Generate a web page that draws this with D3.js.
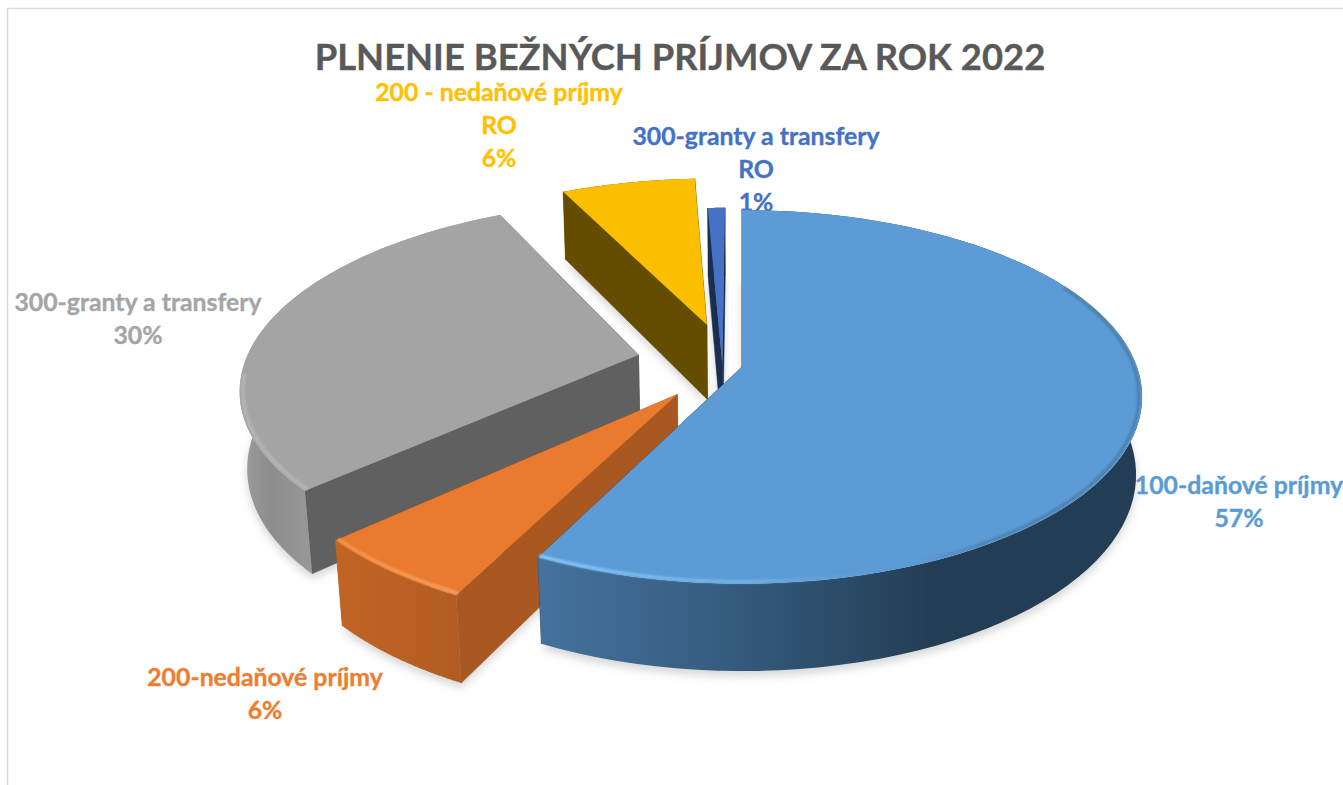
<!DOCTYPE html>
<html><head><meta charset="utf-8">
<script src="https://cdnjs.cloudflare.com/ajax/libs/d3/7.8.5/d3.min.js"></script>
<style>html,body{margin:0;padding:0;background:#fff;overflow:hidden}svg{display:block}text{font-family:Lato,"Open Sans",sans-serif;font-weight:700;text-anchor:middle;stroke-width:.35px;stroke-linejoin:round}</style>
</head><body><svg id="c" width="1343" height="785"></svg>
<script>
const title = "PLNENIE BEŽNÝCH PRÍJMOV ZA ROK 2022";
const categories = ["100-daňové príjmy","200-nedaňové príjmy","300-granty a transfery","200 - nedaňové príjmy","300-granty a transfery"];
const suffixes = ["","","","RO","RO"];
const values = [57.3,5.8,29.6,6.49,.81];

const topColors  = ["#5B9BD5","#E97A2E","#A4A4A4","#FBBF00","#4472C4"];
const cutColors  = ["#2b4a66","#A95821","#606060","#654D00","#192E50"];
const textColors = ["#5B9BD5","#ED7D31","#A5A5A5","#FFC000","#4472C4"];
const wallStops = [
  [[541,"#44729c"],[700,"#385f84"],[850,"#2a4a66"],[930,"#233e54"],[1143,"#233e54"]],
  [[345,"#C06425"],[465,"#B25C22"]],
  [[238,"#a0a0a0"],[270,"#8c8c8c"],[318,"#9a9a9a"]],
  [[0,"#654D00"],[1343,"#654D00"]],
  [[0,"#192E50"],[1343,"#192E50"]]
];
const rimStops = [
  [[541,"#8ccaff",1],[760,"#74b4ea",.9],[900,"#5B9BD5",0],[980,"#2d4f6b",.35],[1143,"#2d4f6b",.4]],
  [[345,"#F59A55",.9],[465,"#F9A566",1]],
  [[238,"#c4c4c4",.6],[318,"#bcbcbc",.75]]
];
const rimAngles = [[62,206.3],[206.3,227.2],[227.2,264]];
// exploded offset of each wedge on the disc, in radius units
const explodeU = [0,-.16,-.265,-.0924,-.05];
const explodeV = [0,-.147,.0672,.241,.017];
const labelX = [1239,265,138,499,756];
const labelY = [494,686,311,101,145];
const drawOrder = [2,3,4,1,0];

const cx=742, cy=367, R=395, A=182, p=.16, H=78, q=.015;
const project=(u,v,z)=>{const w=1+p*v+q*z;return [cx+R*u/w, cy+(-A*v+H*z)/w];};

const svg=d3.select("#c"), defs=svg.append("defs");
const line=d3.line();
const arcs=d3.pie().sort(null).startAngle(0).endAngle(2*Math.PI)(values);

const blur=(id,s)=>defs.append("filter").attr("id",id).attr("x","-20%").attr("y","-20%").attr("width","140%").attr("height","140%")
  .append("feGaussianBlur").attr("stdDeviation",s);
blur("sh",4.5); blur("rim",1.1); blur("soft",.45);

function grad(id,stops){
  const g=defs.append("linearGradient").attr("id",id).attr("gradientUnits","userSpaceOnUse")
    .attr("x1",stops[0][0]).attr("x2",stops[stops.length-1][0]).attr("y1",0).attr("y2",0);
  const a=stops[0][0], b=stops[stops.length-1][0];
  stops.forEach(s=>g.append("stop").attr("offset",(s[0]-a)/(b-a)).attr("stop-color",s[1]).attr("stop-opacity",s[2]===undefined?1:s[2]));
}
wallStops.forEach((s,i)=>grad("wall"+i,s));
rimStops.forEach((s,i)=>grad("rimg"+i,s));

const arcPts=(i,a0,a1,z,r=1)=>d3.range(0,81).map(k=>{
  const a=a0+(a1-a0)*k/80;
  return project(explodeU[i]+r*Math.sin(a),explodeV[i]+r*Math.cos(a),z);
});
const apex=(i,z)=>project(explodeU[i],explodeV[i],z);
const facePath=(i,z)=>{const d=arcs[i];return line([apex(i,z),...arcPts(i,d.startAngle,d.endAngle,z)])+"Z";};

// frame
svg.append("path").attr("d",line([[7.5,785],[7.5,8.5],[1343,8.5]])).attr("fill","none").attr("stroke","#dcdcdc").attr("stroke-width",1.6);

// shadows
svg.append("g").selectAll("path").data(drawOrder).join("path")
  .attr("d",i=>facePath(i,1)).attr("transform","translate(0,5)")
  .attr("fill","#b4b4b4").attr("fill-opacity",.55).attr("filter","url(#sh)");
// faint crisp footprint seen through the gaps behind the pie
svg.append("g").selectAll("path").data([0,4]).join("path")
  .attr("d",i=>facePath(i,1)).attr("fill","#e3e3e3");

// labels
svg.append("text").attr("x",680).attr("y",70).attr("font-size",36.4).attr("fill","#595959").attr("stroke","#595959").text(title);
const lab=svg.append("g").selectAll("text").data(values).join("text")
  .attr("font-size",24.8).attr("fill",(d,i)=>textColors[i]).attr("stroke",(d,i)=>textColors[i]);
lab.each(function(d,i){
  const lines=[categories[i]]; if(suffixes[i]) lines.push(suffixes[i]); lines.push(Math.round(d)+"%");
  d3.select(this).selectAll("tspan").data(lines).join("tspan")
    .attr("x",labelX[i]).attr("y",(t,k)=>labelY[i]+k*33).text(t=>t);
});

// wedges
const g=svg.append("g");
drawOrder.forEach(i=>{
  const d=arcs[i], s=g.append("g");
  [d.startAngle,d.endAngle].forEach(a=>{
    const e0=arcPts(i,a,a,0)[0], e1=arcPts(i,a,a,1)[0];
    s.append("path").attr("d",line([apex(i,0),e0,e1,apex(i,1)])+"Z")
      .attr("fill",cutColors[i]).attr("stroke",cutColors[i]).attr("stroke-width",.6);
  });
  const topArc=arcPts(i,d.startAngle,d.endAngle,0), botArc=arcPts(i,d.startAngle,d.endAngle,1).reverse();
  s.append("path").attr("d",line([...topArc,...botArc])+"Z").attr("fill",`url(#wall${i})`);
  s.append("path").attr("d",facePath(i,0)).attr("fill",topColors[i]).attr("filter","url(#soft)");
  if(rimAngles[i]){
    const [a0,a1]=rimAngles[i].map(x=>x*Math.PI/180);
    s.append("path").attr("d",line(arcPts(i,a0,a1,0,.992))).attr("fill","none")
      .attr("stroke",`url(#rimg${i})`).attr("stroke-width",3).attr("filter","url(#rim)");
  }
});
</script></body></html>
